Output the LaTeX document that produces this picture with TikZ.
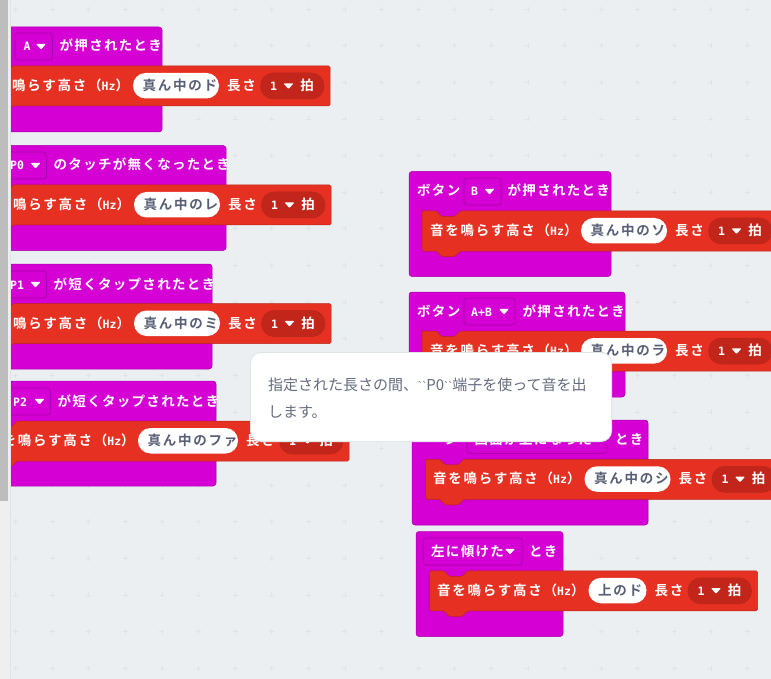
\documentclass[tikz,border=0pt]{standalone}
\usepackage{fontspec}
\newfontfamily\jpb[LetterSpace=13]{Noto Sans CJK JP Bold}
\newfontfamily\jph[LetterSpace=9.6]{Noto Sans CJK JP Bold}
\newfontfamily\jpr{Noto Sans CJK JP}
\newfontfamily\latf{DejaVu Sans Mono}
\newfontfamily\ticks{Liberation Sans}
\definecolor{canvas}{HTML}{EBEFF1}
\definecolor{gridc}{HTML}{DFE4E7}
\definecolor{hatc}{HTML}{D400D4}
\definecolor{hate}{HTML}{AA00AA}
\definecolor{redc}{HTML}{E63022}
\definecolor{rede}{HTML}{B8261B}
\definecolor{redd}{HTML}{C2261B}
\definecolor{notec}{HTML}{575E75}
\definecolor{tipc}{HTML}{666C80}
\definecolor{barc}{HTML}{BDBDBD}
\definecolor{sidec}{HTML}{EFEFEF}
\newcommand\ltn[1]{{\latf\bfseries\fontsize{11.5}{13}\selectfont #1}}
\newcommand\btk{{\ticks\fontsize{12}{12}\selectfont `\kern.2pt`}}
\tikzset{
  lbl/.style={anchor=west,inner sep=0pt,text=white,font=\jpb\fontsize{13.5}{13.5}\selectfont,text height=11pt,text depth=2pt},
  hlbl/.style={lbl,font=\jph\fontsize{13.5}{13.5}\selectfont},
  mid/.style={lbl,anchor=center},
  notelbl/.style={lbl,text=notec},
  hatbody/.style={fill=hatc,draw=hate,line width=.5pt,rounded corners=3pt},
  redbody/.style={fill=redc,draw=rede,line width=.5pt,rounded corners=1.5pt},
  drop/.style={fill=hatc,draw=hate,line width=.8pt,rounded corners=3pt},
  darkpill/.style={fill=redd,draw=rede,line width=.5pt,rounded corners=12.5pt},
  whitepill/.style={fill=white,rounded corners=12.5pt},
  arrowtri/.style={fill=white,rounded corners=.8pt},
  tip/.style={fill=white,rounded corners=10pt},
  tipshadow/.style={fill=gridc,rounded corners=11pt},
  tiplbl/.style={anchor=west,inner sep=0pt,text=tipc,font=\jpr\fontsize{15}{15}\selectfont}
}
\newcommand\tri[2]{\path[arrowtri] ({#1-5},{#2-2.6}) -- ({#1+5},{#2-2.6}) -- (#1,{#2+3}) -- cycle;}
\newcommand\hatblk[3]{\path[hatbody] (#1,#2) rectangle (#3,{#2+105});}
\newcommand\dropbox[3]{\path[drop] (#1,#2) rectangle (#3,{#2+27});}
\newcommand\redrow[7]{%
  \path[redbody] ({#2+1},#3) -- ({#2+14.5},#3) -- ({#2+19.5},{#3+5.5}) -- ({#2+33},{#3+5.5}) -- ({#2+38},#3)
    -- ({#2+356+#4},#3) -- ({#2+356+#4},{#3+40}) -- ({#2+38},{#3+40}) -- ({#2+33},{#3+45.5}) -- ({#2+19.5},{#3+45.5})
    -- ({#2+14.5},{#3+40}) -- (#2,{#3+40}) -- (#2,#3) -- cycle;
  \node[lbl] (#1lead) at (#5,{#3+20}) {#6};
  \path[whitepill] ({#2+159},{#3+7}) rectangle ({#2+245+#4},{#3+32.5});
  \node[notelbl] (#1note) at ({#2+168.5},{#3+20}) {#7};
  \node[lbl] (#1len) at ({#2+253+#4},{#3+20}) {長さ};
  \path[darkpill] ({#2+286.5+#4},{#3+7}) rectangle ({#2+350+#4},{#3+33});
  \node[mid] (#1num) at ({#2+299.5+#4},{#3+20}) {\ltn{1}};
  \tri{#2+314.5+#4}{#3+20}
  \node[mid] (#1beat) at ({#2+333+#4},{#3+20}) {拍};
}
\newcommand\tone{音を鳴らす高さ（\ltn{Hz}）}
\newcommand\tonecut{鳴らす高さ（\ltn{Hz}）}
\begin{document}
\begin{tikzpicture}[x=1pt,y=-1pt]
\useasboundingbox (0,0) rectangle (771,679);
\fill[canvas] (0,0) rectangle (771,679);
\foreach \i in {0,...,20}{\foreach \j in {0,...,18}{
  \draw[gridc,line width=.6pt] ({15.4+36.6*\i-2.5},{9.2+36.6*\j}) -- ({15.4+36.6*\i+2.5},{9.2+36.6*\j})
    ({15.4+36.6*\i},{9.2+36.6*\j-2.5}) -- ({15.4+36.6*\i},{9.2+36.6*\j+2.5});
}}
\begin{scope}
\clip (10,0) rectangle (771,679);
\hatblk{-40}{27}{162}
\dropbox{15}{33}{52.5}
\node[mid] (d1) at (27,46.5) {\ltn{A}};
\tri{41}{46.5}
\node[hlbl] (h1) at (59.5,46.5) {が押されたとき};
\redrow{r1}{-26}{66}{0}{12}{\tonecut}{真ん中のド}

\hatblk{-40}{145.5}{226}
\dropbox{8}{152}{46.5}
\node[lbl] (d2) at (10,165.5) {\ltn{P0}};
\tri{35.5}{165.5}
\node[hlbl] (h2) at (53.5,165.5) {のタッチが無くなったとき};
\redrow{r2}{-25}{185}{0}{13}{\tonecut}{真ん中のレ}

\hatblk{-40}{264}{212}
\dropbox{8}{271}{46.5}
\node[lbl] (d3) at (10,284.5) {\ltn{P1}};
\tri{35.5}{284.5}
\node[hlbl] (h3) at (53.5,284.5) {が短くタップされたとき};
\redrow{r3}{-25}{303.5}{0}{13}{\tonecut}{真ん中のミ}

\hatblk{-40}{381}{216}
\dropbox{8}{388}{50.5}
\node[lbl] (d4) at (13,401.5) {\ltn{P2}};
\tri{39.5}{401.5}
\node[hlbl] (h4) at (57.5,401.5) {が短くタップされたとき};
\redrow{r4}{-21}{421}{14}{2.4}{を\tonecut}{真ん中のファ}
\end{scope}
\hatblk{409}{171.5}{611}
\node[hlbl] (h5a) at (417,191.5) {ボタン};
\dropbox{464}{178}{501}
\node[lbl] (d5) at (471,191.5) {\ltn{B}};
\tri{489.5}{191.5}
\node[hlbl] (h5) at (507.5,191.5) {が押されたとき};
\redrow{r5}{422}{211}{0}{430}{\tone}{真ん中のソ}

\hatblk{409}{292}{625}
\node[hlbl] (h6a) at (417,311.5) {ボタン};
\dropbox{464}{298}{515}
\node[lbl] (d6) at (471,311.5) {\ltn{A+B}};
\tri{504}{311.5}
\node[hlbl] (h6) at (522.5,311.5) {が押されたとき};
\redrow{r6}{422}{331}{0}{430}{\tone}{真ん中のラ}

\hatblk{412}{420}{648}
\node[hlbl] (h7a) at (444.5,439.5) {ン};
\dropbox{467}{426.5}{607}
\node[hlbl] (d7) at (474.5,439.5) {画面が上になった};
\node[hlbl] (h7) at (615,439.5) {とき};
\redrow{r7}{425.5}{459.3}{0}{433}{\tone}{真ん中のシ}

\hatblk{416}{531.5}{563}
\dropbox{423}{538}{522}
\node[hlbl] (d8) at (431,551.5) {左に傾けた};
\tri{510}{551.5}
\node[hlbl] (h8) at (529,551.5) {とき};
\redrow{r8}{429.5}{570.8}{-28}{437}{\tone}{上のド}
\path[tipshadow] (250,352) rectangle (612,442);
\path[tip] (251,353) rectangle (611,441);
\node[tiplbl] (t1) at (268,385) {指定された長さの間、\btk P0\btk 端子を使って音を出};
\node[tiplbl] (t2) at (268,412.5) {します。};
\fill[sidec] (0,0) rectangle (10,679);
\fill[barc] (0,0) rectangle (8,501);
\fill[gridc] (10,0) rectangle (11.2,679);
\end{tikzpicture}
\end{document}
